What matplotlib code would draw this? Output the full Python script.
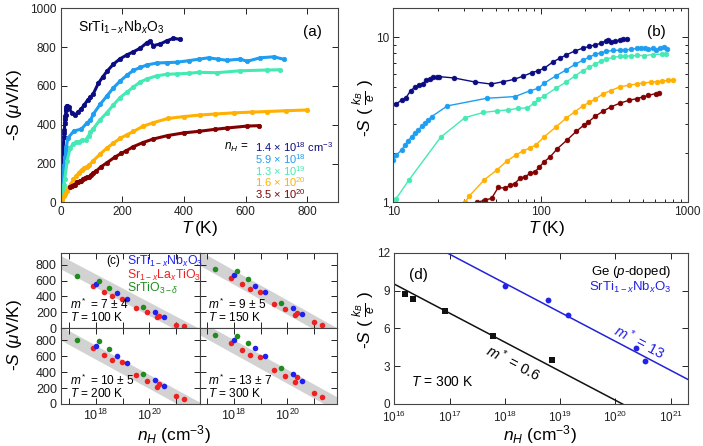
import matplotlib
matplotlib.use('Agg')
import matplotlib.pyplot as plt
import numpy as np
from matplotlib.ticker import FixedLocator, FuncFormatter, MultipleLocator, NullLocator

plt.rcParams['font.family'] = ['Liberation Sans', 'DejaVu Sans']
plt.rcParams['mathtext.fontset'] = 'custom'
plt.rcParams['mathtext.rm'] = 'Liberation Sans'
plt.rcParams['mathtext.it'] = 'Liberation Sans:italic'
plt.rcParams['mathtext.bf'] = 'Liberation Sans:bold'

# ---------------- data: panel (a)/(b)  T (K), -S (uV/K) ----------------
navy_T = [2, 4, 6, 8, 10.4, 11.4, 12.2, 13.1, 14.0, 15.0, 15.8, 16.8, 17.7, 18.7, 19.7, 20.5, 25.8, 35.9,
          46.1, 55.9, 66.0, 76.4, 87.1, 96.6, 106, 122, 136, 150, 171, 193, 215, 236, 258, 280, 289, 301,
          323, 345, 366, 388]
navy_S = [40, 120, 200, 280, 339, 359, 371, 409, 429, 443, 449, 475, 482, 493, 498, 498, 489, 462,
          449, 464, 479, 502, 526, 541, 560, 613, 645, 675, 712, 740, 760, 776, 794, 823, 830, 808,
          816, 833, 845, 840]

lb_T = [2, 4, 6, 8, 10.0, 10.5, 11.4, 12.0, 12.6, 13.3, 14.0, 14.8, 15.6, 16.4, 17.3, 18.2, 23.3, 43.0,
        67.0, 85.0, 96.6, 106, 128, 150, 171, 193, 215, 236, 258, 280, 312, 345, 377, 415, 450, 480,
        510, 540, 583, 605, 648, 692, 724]
lb_S = [25, 60, 95, 130, 156, 167, 179, 192, 203, 215, 226, 236, 250, 259, 272, 285, 331, 368,
        377, 409, 423, 455, 505, 548, 590, 625, 655, 680, 695, 708, 718, 720, 722, 730, 738, 745,
        738, 732, 738, 727, 745, 750, 737]

aq_T = [3, 6, 8, 10.4, 12.8, 21.0, 30.7, 40.9, 50.9, 60.4, 70.6, 81.4, 90.4, 96.6, 106, 128, 150, 171,
        193, 215, 236, 258, 280, 312, 345, 377, 415, 450, 507, 583, 670, 711]
aq_S = [20, 50, 70, 90, 118, 214, 281, 302, 309, 313, 320, 322, 343, 362, 380, 425, 462, 502,
        540, 568, 594, 620, 636, 652, 660, 662, 665, 670, 668, 678, 682, 683]

yel_T = [5, 10, 15, 20, 25, 30.7, 32.8, 41.5, 50.4, 58.9, 68.2, 76.4, 84.8, 93.1, 106, 128, 150, 171,
         193, 215, 236, 267, 300, 347, 400, 453, 500, 562, 620, 670, 730, 800]
yel_S = [10, 30, 45, 60, 72, 86, 94, 118, 135, 153, 167, 177, 184, 192, 215, 248, 280, 305,
         330, 348, 365, 392, 410, 432, 442, 450, 455, 461, 465, 468, 472, 476]

dr_T = [30, 37, 42, 46.5, 51.6, 57.4, 62, 67.1, 72.6, 78.5, 84.9, 91.8, 98.3, 106, 116, 130, 151, 175,
        196, 211, 236, 267, 300, 347, 400, 450, 500, 540, 605, 643]
dr_S = [80, 86, 89, 91, 106, 105, 109, 112, 121, 123, 129, 132, 141, 152, 162, 182, 205, 232,
        252, 264, 287, 308, 326, 344, 358, 366, 376, 383, 393, 395]

curve_labels = [r'1.4 $\times$ 10$^{18}$ cm$^{-3}$', r'5.9 $\times$ 10$^{18}$', r'1.3 $\times$ 10$^{19}$',
                r'1.6 $\times$ 10$^{20}$', r'3.5 $\times$ 10$^{20}$']
curve_colors = ['#0c0c82', '#1e9ef0', '#44eab4', '#ffb000', '#820000']

KB_E = 86.17  # uV/K per k_B/e

# ---------------- data: panel (c)  n_H (cm^-3), -S (uV/K) ----------------
c_temps = ['100', '150', '200', '300']
c_mstar = ['7 \u00b1 4', '9 \u00b1 5', '10 \u00b1 5', '13 \u00b1 7']
green_n = [2.0e17, 1.26e18, 3.2e18, 6.0e19]
blue_n = [1.0e18, 6.0e18, 1.4e19, 1.6e20, 3.6e20]
red_n = [7.8e17, 2.0e18, 4.0e18, 9.3e18, 3.1e19, 7.9e19, 1.95e20, 2.3e20, 1.0e21, 1.95e21]
green_S = [[651, 596, 511, 268], [745, 715, 621, 323], [800, 792, 688, 379], [871, 858, 767, 458]]
blue_S = [[557, 438, 374, 204, 140], [664, 536, 460, 255, 179], [729, 608, 517, 304, 221],
          [808, 708, 604, 375, 288]]
red_S = [[532, 460, 404, 374, 255, 200, 145, 153, 47, 30],
         [634, 553, 494, 455, 306, 247, 170, 196, 77, 43],
         [700, 612, 558, 521, 358, 292, 208, 246, 104, 63],
         [771, 683, 621, 588, 429, 354, 271, 333, 142, 92]]
# gray band: -S = slope * (log10 n_edge - log10 n)
band_slope = [177, 187, 184, 185]
band_lo = [20.9, 20.94, 21.05, 21.4]
band_hi = [21.85, 21.9, 22.0, 22.35]

# ---------------- data: panel (d) ----------------
ge_n = [1.55e16, 2.15e16, 8.3e16, 6.2e17, 7.1e18]
ge_S = [8.70, 8.30, 7.35, 5.39, 3.46]
sto_n = [1.02e18, 6.0e18, 1.41e19, 2.34e20, 3.47e20]
sto_S = [9.38, 8.22, 7.06, 4.41, 3.38]
ge_fit_zero = 20.13    # log10 n where fit line reaches 0
sto_fit_zero = 22.16
fit_slope = np.log(10)

# ---------------- figure ----------------
fig = plt.figure(figsize=(7.03, 4.46), dpi=100)
W, H = 703.0, 446.0


def rect(l, t, r, b):
    return [l / W, 1 - b / H, (r - l) / W, (b - t) / H]


def fx(px):
    return px / W


def fy(py):
    return 1 - py / H


def style(ax, ls=8.5):
    ax.tick_params(which='both', direction='in', top=True, right=True, labelsize=ls, width=0.7,
                   colors='#222222', pad=3)
    ax.tick_params(which='major', length=4)
    ax.tick_params(which='minor', length=2)
    for s in ax.spines.values():
        s.set_linewidth(0.8)
        s.set_color('#444444')


# panel (a)
axa = fig.add_axes(rect(60.7, 8.3, 338, 202.3))
series = [(navy_T, navy_S), (lb_T, lb_S), (aq_T, aq_S), (yel_T, yel_S), (dr_T, dr_S)]
for (T, S), c in zip(series, curve_colors):
    axa.plot(T, S, '-o', color=c, lw=2.2, ms=3.2, mec=c, mew=0.5)
axa.set_xlim(0, 900)
axa.set_ylim(0, 1000)
axa.xaxis.set_major_locator(FixedLocator([0, 200, 400, 600, 800]))
axa.yaxis.set_major_locator(MultipleLocator(200))
style(axa)
fig.text(fx(78), fy(27), r'SrTi$_{1-x}$Nb$_x$O$_3$', fontsize=10, ha='left', va='center')
fig.text(fx(312), fy(32), '(a)', fontsize=11, ha='center', va='center')
fig.text(fx(248), fy(147), r'$n_H$ =', fontsize=8.5, ha='right', va='center')
for i, (lab, c) in enumerate(zip(curve_labels, curve_colors)):
    fig.text(fx(255), fy(147 + 11.8 * i), lab, fontsize=8, color=c, ha='left', va='center')
fig.text(fx(14), fy(105), r'-S ($\mu$V/K)', rotation=90, fontsize=12.5, ha='center', va='center')
fig.text(fx(200), fy(228), r'$T\,$(K)', fontsize=12.5, ha='center', va='center')

# panel (b)
axb = fig.add_axes(rect(393.3, 8.3, 687.7, 202.3))
for (T, S), c in zip(series, curve_colors):
    axb.plot(T, np.array(S) / KB_E, '-o', color=c, lw=1.0, ms=3.4, mec=c, mew=0.5)
axb.set_xscale('log')
axb.set_yscale('log')
axb.set_xlim(10, 1000)
axb.set_ylim(1, 15)
gfmt = FuncFormatter(lambda v, p: '%g' % v)
axb.xaxis.set_major_formatter(gfmt)
axb.yaxis.set_major_formatter(gfmt)
axb.yaxis.set_minor_formatter(FuncFormatter(lambda v, p: ''))
axb.xaxis.set_minor_formatter(FuncFormatter(lambda v, p: ''))
style(axb)
fig.text(fx(656), fy(32), '(b)', fontsize=11, ha='center', va='center')
fig.text(fx(364), fy(108), r'-$S$ ( $\frac{k_B}{e}$ )', rotation=90, fontsize=12.5, ha='center', va='center')
fig.text(fx(547), fy(228), r'$T\,$(K)', fontsize=12.5, ha='center', va='center')

# panel (c)
cols = [(61, 199.5), (199.5, 337)]
rows = [(252.7, 328.3), (328.3, 404)]
xl = (10 ** 16.7, 10 ** 21.87)
Lx = np.linspace(15, 23, 50)
for k in range(4):
    r, cidx = divmod(k, 2)
    ax = fig.add_axes(rect(cols[cidx][0], rows[r][0], cols[cidx][1], rows[r][1]))
    lo = band_slope[k] * (band_lo[k] - Lx)
    hi = band_slope[k] * (band_hi[k] - Lx)
    ax.fill_between(10 ** Lx, lo, hi, color='#d2d2d2', lw=0, zorder=0)
    ax.plot(red_n, red_S[k], 'o', color='#f02020', ms=4, mew=0, zorder=2)
    ax.plot(blue_n, blue_S[k], 'o', color='#2020f0', ms=4, mew=0, zorder=3)
    ax.plot(green_n, green_S[k], 'o', color='#1e8c1e', ms=4, mew=0, zorder=4)
    ax.set_xscale('log')
    ax.set_xlim(*xl)
    ax.set_ylim(0, 950)
    ax.yaxis.set_major_locator(FixedLocator([0, 200, 400, 600, 800]))
    ax.xaxis.set_major_locator(FixedLocator([1e17, 1e18, 1e19, 1e20, 1e21]))
    ax.xaxis.set_minor_locator(NullLocator())
    ax.xaxis.set_major_formatter(FuncFormatter(
        lambda v, p: (r'10$^{%d}$' % round(np.log10(v))) if round(np.log10(v)) in (18, 20) else ''))
    style(ax, ls=9)
    if cidx == 1:
        ax.tick_params(labelleft=False)
    if r == 0:
        ax.tick_params(labelbottom=False)
    ax.text(0.065, 0.315, r'$m^*$ = ' + c_mstar[k], transform=ax.transAxes, fontsize=8.6, ha='left',
            va='center')
    ax.text(0.065, 0.145, r'$T$ = ' + c_temps[k] + ' K', transform=ax.transAxes, fontsize=8.6, ha='left',
            va='center')
fig.text(fx(113), fy(261), '(c)', fontsize=8.5, ha='center', va='center')
fig.text(fx(127), fy(261), r'SrTi$_{1-x}$Nb$_x$O$_3$', fontsize=8.8, color='#2020f0', ha='left', va='center')
fig.text(fx(127), fy(275), r'Sr$_{1-x}$La$_x$TiO$_3$', fontsize=8.8, color='#f02020', ha='left', va='center')
fig.text(fx(127), fy(288), r'SrTiO$_{3-\delta}$', fontsize=8.8, color='#1e8c1e', ha='left', va='center')
fig.text(fx(14), fy(335), r'-$S$ ($\mu$V/K)', rotation=90, fontsize=12.5, ha='center', va='center')
fig.text(fx(174), fy(435), r'$n_H$ (cm$^{-3}$)', fontsize=12.5, ha='center', va='center')

# panel (d)
axd = fig.add_axes(rect(394.3, 252.7, 687.7, 404))
Lf = np.linspace(15.5, 22, 100)
axd.plot(10 ** Lf, fit_slope * (ge_fit_zero - Lf), color='#111111', lw=1.1)
axd.plot(10 ** Lf, fit_slope * (sto_fit_zero - Lf), color='#2222d8', lw=1.1)
axd.plot(ge_n, ge_S, 's', color='#111111', ms=4.2, mew=0)
axd.plot(sto_n, sto_S, 'o', color='#2222e8', ms=4.2, mew=0)
axd.set_xscale('log')
axd.set_xlim(1e16, 10 ** 21.31)
axd.set_ylim(0, 12)
axd.yaxis.set_major_locator(MultipleLocator(3))
axd.xaxis.set_major_locator(FixedLocator([1e16, 1e17, 1e18, 1e19, 1e20, 1e21]))
axd.xaxis.set_minor_locator(NullLocator())
axd.xaxis.set_major_formatter(FuncFormatter(lambda v, p: r'10$^{%d}$' % round(np.log10(v))))
style(axd, ls=8.5)
axd.tick_params(axis='x', pad=4)
fig.text(fx(418), fy(275), '(d)', fontsize=11, ha='center', va='center')
fig.text(fx(671), fy(272), r'Ge ($p$-doped)', fontsize=9.5, ha='right', va='center')
fig.text(fx(671), fy(287), r'SrTi$_{1-x}$Nb$_x$O$_3$', fontsize=9.5, color='#2222e8', ha='right', va='center')
fig.text(fx(411), fy(382), r'$T$ = 300 K', fontsize=10, ha='left', va='center')
fig.text(fx(513), fy(362), r'$m^*$ = 0.6', fontsize=10.5, rotation=-27.7, ha='center', va='center')
fig.text(fx(640), fy(342), r'$m^*$ = 13', fontsize=10.5, rotation=-27.7, color='#2222e8', ha='center',
         va='center')
fig.text(fx(364), fy(320), r'-$S$ ( $\frac{k_B}{e}$ )', rotation=90, fontsize=12.5, ha='center', va='center')
fig.text(fx(540), fy(435), r'$n_H$ (cm$^{-3}$)', fontsize=12.5, ha='center', va='center')

fig.savefig('out.png', dpi=100)
